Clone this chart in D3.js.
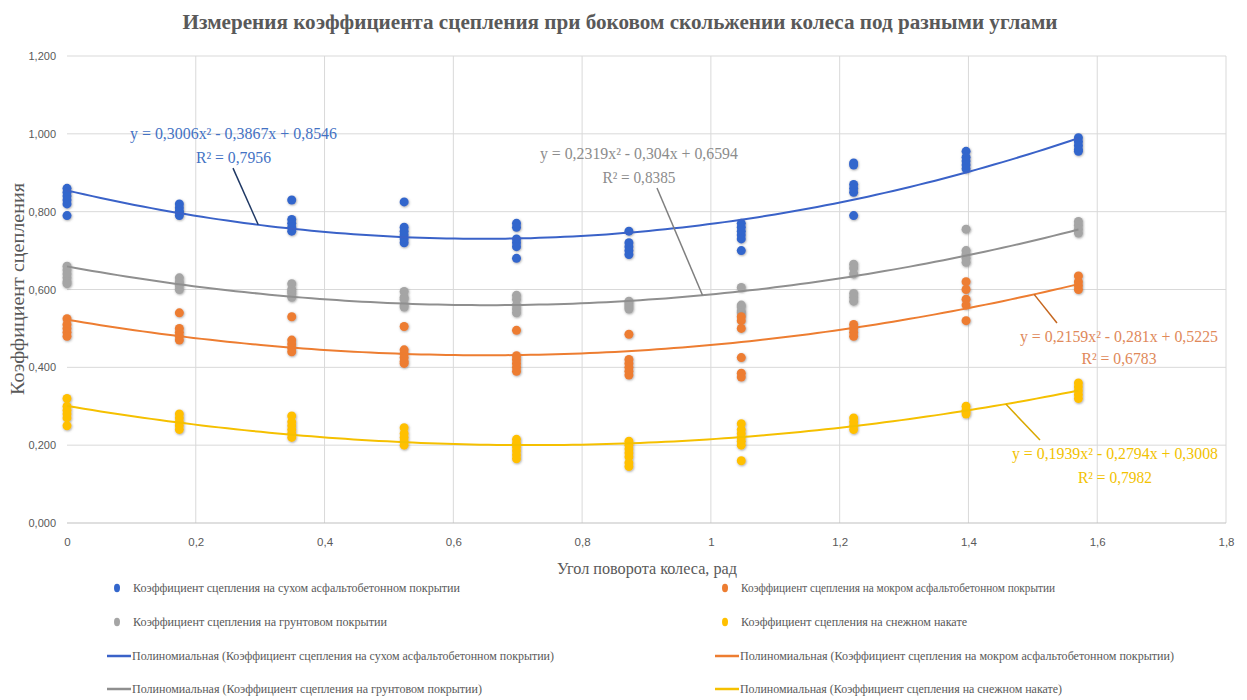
<!DOCTYPE html>
<html><head><meta charset="utf-8">
<script src="https://cdn.jsdelivr.net/npm/d3@7"></script>
<style>
body{margin:0;background:#fff;}
svg{display:block;}
</style></head>
<body><svg id="chart" width="1247" height="700"></svg>
<script>
// ---- DATA ----
const angles = [0, 0.1745, 0.349, 0.5236, 0.6981, 0.8727, 1.0472, 1.2217, 1.3963, 1.5708];
const dryAsphalt = [
  [0.86,0.85,0.84,0.83,0.82,0.79],
  [0.82,0.81,0.80,0.80,0.79],
  [0.83,0.78,0.77,0.76,0.75],
  [0.825,0.76,0.75,0.74,0.73,0.72],
  [0.77,0.76,0.73,0.72,0.71,0.68],
  [0.75,0.72,0.71,0.70,0.69],
  [0.77,0.76,0.75,0.74,0.73,0.70],
  [0.925,0.92,0.87,0.86,0.85,0.79],
  [0.955,0.94,0.93,0.92,0.91],
  [0.99,0.98,0.97,0.96,0.955]
];
const wetAsphalt = [
  [0.525,0.51,0.50,0.49,0.48],
  [0.54,0.50,0.49,0.48,0.47],
  [0.53,0.47,0.46,0.45,0.44],
  [0.505,0.445,0.435,0.425,0.415,0.41],
  [0.495,0.43,0.42,0.41,0.40,0.39],
  [0.485,0.42,0.41,0.40,0.39,0.38],
  [0.53,0.52,0.50,0.425,0.385,0.375],
  [0.51,0.50,0.49,0.48],
  [0.62,0.60,0.575,0.56,0.52],
  [0.635,0.62,0.61,0.60]
];
const ground = [
  [0.66,0.65,0.64,0.63,0.62,0.615],
  [0.63,0.62,0.615,0.61,0.60],
  [0.615,0.60,0.595,0.59,0.58],
  [0.595,0.58,0.575,0.56,0.555],
  [0.585,0.575,0.56,0.55,0.54],
  [0.57,0.565,0.56,0.555,0.55],
  [0.605,0.56,0.555,0.545,0.54],
  [0.665,0.655,0.64,0.59,0.58,0.57],
  [0.755,0.70,0.69,0.68,0.67],
  [0.775,0.765,0.755,0.745]
];
const snow = [
  [0.32,0.30,0.29,0.28,0.27,0.25],
  [0.28,0.27,0.26,0.25,0.24],
  [0.275,0.26,0.25,0.24,0.23,0.22],
  [0.245,0.23,0.22,0.21,0.20],
  [0.215,0.205,0.195,0.185,0.175,0.165],
  [0.21,0.20,0.19,0.18,0.17,0.155,0.145],
  [0.255,0.24,0.23,0.22,0.21,0.20,0.16],
  [0.27,0.26,0.25,0.24],
  [0.30,0.29,0.285,0.28],
  [0.36,0.35,0.34,0.33,0.32]
];
const seriesNames = [
  "Коэффициент сцепления на сухом асфальтобетонном покрытии",
  "Коэффициент сцепления на мокром асфальтобетонном покрытии",
  "Коэффициент сцепления на грунтовом покрытии",
  "Коэффициент сцепления на снежном накате"
];
const trendCoefs = [ // a, b, c  for y = a x^2 + b x + c
  [0.3006, -0.3867, 0.8546],
  [0.2159, -0.281, 0.5225],
  [0.2319, -0.304, 0.6594],
  [0.1939, -0.2794, 0.3008]
];
const trendLabels = [
  ["y = 0,3006x² - 0,3867x + 0,8546", "R² = 0,7956"],
  ["y = 0,2159x² - 0,281x + 0,5225", "R² = 0,6783"],
  ["y = 0,2319x² - 0,304x + 0,6594", "R² = 0,8385"],
  ["y = 0,1939x² - 0,2794x + 0,3008", "R² = 0,7982"]
];
const xTicks = [0,0.2,0.4,0.6,0.8,1,1.2,1.4,1.6,1.8];
const yTicks = [0,0.2,0.4,0.6,0.8,1.0,1.2];
const titleText = "Измерения коэффициента сцепления при боковом скольжении колеса под разными углами";
const xTitle = "Угол поворота колеса, рад";
const yTitle = "Коэффициент сцепления";

// ---- STYLE ----
const markColors = ["#3366cc", "#ed7d31", "#a5a5a5", "#ffc000"];
const lineColors = ["#3a62c8", "#ed7d31", "#8f8f8f", "#f5c000"];
const labelColors = ["#4472c4", "#e0895a", "#8c8c8c", "#f2c200"];
const leaderColors = ["#1f3864", "#c5661f", "#7f7f7f", "#d9a800"];
// label placement (data coords of label centre, leader start & curve-x of leader end, text widths, line gap)
const labelPos = [
  {cx:0.2586, cy:1.002, lx:0.2578, ly:0.912, ex:0.297, w1:207, w2:75, gap:24},
  {cx:1.6338, cy:0.4805, lx:1.5375, ly:0.514, ex:1.502, w1:198, w2:75, gap:22},
  {cx:0.8883, cy:0.9507, lx:0.9163, ly:0.861, ex:0.987, w1:198, w2:73, gap:24},
  {cx:1.6276, cy:0.1799, lx:1.5111, ly:0.2133, ex:1.458, w1:206, w2:74, gap:24}
];

const svg = d3.select("#chart");
const x = d3.scaleLinear().domain([0,1.8]).range([67,1226]);
const y = d3.scaleLinear().domain([0,1.2]).range([523,56]);
const fmtY = v => d3.format(".3f")(v).replace(".", ",");
const fmtX = v => String(+v.toFixed(1)).replace(".", ",");

const defs = svg.append("defs");
const f = defs.append("filter").attr("id","sh").attr("x","-50%").attr("y","-50%").attr("width","200%").attr("height","200%");
f.append("feDropShadow").attr("dx",0.6).attr("dy",0.8).attr("stdDeviation",0.9).attr("flood-color","#555").attr("flood-opacity",0.55);

// gridlines
svg.append("g").selectAll("line").data(yTicks.filter(d=>d>0)).join("line")
  .attr("x1",x(0)).attr("x2",x(1.8)).attr("y1",d=>y(d)).attr("y2",d=>y(d))
  .attr("stroke","#d9d9d9").attr("stroke-width",1);
svg.append("g").selectAll("line").data(xTicks.filter(d=>d>0)).join("line")
  .attr("y1",y(0)).attr("y2",y(1.2)).attr("x1",d=>x(d)).attr("x2",d=>x(d))
  .attr("stroke","#d9d9d9").attr("stroke-width",1);
svg.append("line").attr("x1",x(0)).attr("x2",x(1.8)).attr("y1",y(0)).attr("y2",y(0))
  .attr("stroke","#bfbfbf").attr("stroke-width",1.2);

// axes labels via d3 axes
const yAxis = svg.append("g").attr("transform",`translate(${x(0)-8},0)`)
  .call(d3.axisLeft(y).tickValues(yTicks).tickFormat(fmtY).tickSize(0));
yAxis.select(".domain").remove();
yAxis.selectAll("text").attr("font-family","'Liberation Sans Narrow','Liberation Sans',sans-serif")
  .attr("font-size",11).attr("fill","#595959");
const xAxis = svg.append("g").attr("transform",`translate(0,${y(0)+12})`)
  .call(d3.axisBottom(x).tickValues(xTicks).tickFormat(fmtX).tickSize(0));
xAxis.select(".domain").remove();
xAxis.selectAll("text").attr("font-family","'Liberation Sans Narrow','Liberation Sans',sans-serif")
  .attr("font-size",11.5).attr("fill","#595959");

// titles
svg.append("text").attr("x",620).attr("y",29).attr("text-anchor","middle")
  .attr("font-family","'Liberation Serif',serif").attr("font-weight","bold").attr("font-size",20)
  .attr("fill","#595959").attr("textLength",875).attr("lengthAdjust","spacingAndGlyphs").text(titleText);
svg.append("text").attr("x",647).attr("y",574).attr("text-anchor","middle")
  .attr("font-family","'Liberation Serif',serif").attr("font-size",17)
  .attr("fill","#595959").attr("textLength",180).attr("lengthAdjust","spacingAndGlyphs").text(xTitle);
svg.append("text").attr("transform","translate(24,289) rotate(-90)").attr("text-anchor","middle")
  .attr("font-family","'Liberation Serif',serif").attr("font-size",18)
  .attr("fill","#595959").attr("textLength",212).attr("lengthAdjust","spacingAndGlyphs").text(yTitle);

// points
const allSeries = [dryAsphalt, wetAsphalt, ground, snow];
const drawOrder = [0,2,1,3];
drawOrder.forEach(si=>{
  const pts = [];
  allSeries[si].forEach((vals,i)=>vals.forEach(v=>pts.push([angles[i],v])));
  svg.append("g").attr("filter","url(#sh)").selectAll("circle").data(pts).join("circle")
    .attr("cx",d=>x(d[0])).attr("cy",d=>y(d[1])).attr("r",4.5)
    .attr("fill",markColors[si]);
});

// trendlines
const line = d3.line().x(d=>x(d[0])).y(d=>y(d[1])).curve(d3.curveLinear);
trendCoefs.forEach((c,si)=>{
  const pts = d3.range(0, 1.5708+1e-9, 1.5708/120).map(t=>[t, c[0]*t*t+c[1]*t+c[2]]);
  svg.append("path").datum(pts).attr("d",line).attr("fill","none")
    .attr("stroke",lineColors[si]).attr("stroke-width",2);
});

// trendline labels & leaders
trendLabels.forEach((lab,si)=>{
  const p = labelPos[si], c = trendCoefs[si];
  const ey = c[0]*p.ex*p.ex + c[1]*p.ex + c[2];
  svg.append("line").attr("x1",x(p.lx)).attr("y1",y(p.ly)).attr("x2",x(p.ex)).attr("y2",y(ey))
    .attr("stroke",leaderColors[si]).attr("stroke-width",1.5);
  const g = svg.append("g").attr("font-family","'Liberation Serif',serif").attr("font-size",16.5)
    .attr("fill",labelColors[si]).attr("text-anchor","middle");
  g.append("text").attr("x",x(p.cx)).attr("y",y(p.cy)+6).attr("textLength",p.w1)
    .attr("lengthAdjust","spacingAndGlyphs").text(lab[0]);
  g.append("text").attr("x",x(p.cx)).attr("y",y(p.cy)+6+p.gap).attr("textLength",p.w2)
    .attr("lengthAdjust","spacingAndGlyphs").text(lab[1]);
});

// legend
const legendItems = [
  {type:"dot", si:0, name:seriesNames[0], col:0, row:0, w:327},
  {type:"dot", si:1, name:seriesNames[1], col:1, row:0, w:314},
  {type:"dot", si:2, name:seriesNames[2], col:0, row:1, w:254},
  {type:"dot", si:3, name:seriesNames[3], col:1, row:1, w:226},
  {type:"line", si:0, name:"Полиномиальная ("+seriesNames[0]+")", col:0, row:2, w:422},
  {type:"line", si:1, name:"Полиномиальная ("+seriesNames[1]+")", col:1, row:2, w:434},
  {type:"line", si:2, name:"Полиномиальная ("+seriesNames[2]+")", col:0, row:3, w:350},
  {type:"line", si:3, name:"Полиномиальная ("+seriesNames[3]+")", col:1, row:3, w:322}
];
const colX = [107, 715], rowY = [588, 622, 656, 689];
const lg = svg.append("g");
legendItems.forEach(it=>{
  const x0 = colX[it.col], y0 = rowY[it.row];
  if(it.type==="dot"){
    lg.append("ellipse").attr("cx",x0+10).attr("cy",y0).attr("rx",3).attr("ry",4.2)
      .attr("fill",markColors[it.si]);
    lg.append("text").attr("x",x0+26).attr("y",y0+4).attr("font-family","'Liberation Serif',serif")
      .attr("font-size",12).attr("fill","#595959").attr("textLength",it.w)
      .attr("lengthAdjust","spacingAndGlyphs").text(it.name);
  } else {
    lg.append("line").attr("x1",x0).attr("x2",x0+24).attr("y1",y0).attr("y2",y0)
      .attr("stroke",lineColors[it.si]).attr("stroke-width",2.5);
    lg.append("text").attr("x",x0+25).attr("y",y0+4).attr("font-family","'Liberation Serif',serif")
      .attr("font-size",12).attr("fill","#595959").attr("textLength",it.w)
      .attr("lengthAdjust","spacingAndGlyphs").text(it.name);
  }
});
</script></body></html>
